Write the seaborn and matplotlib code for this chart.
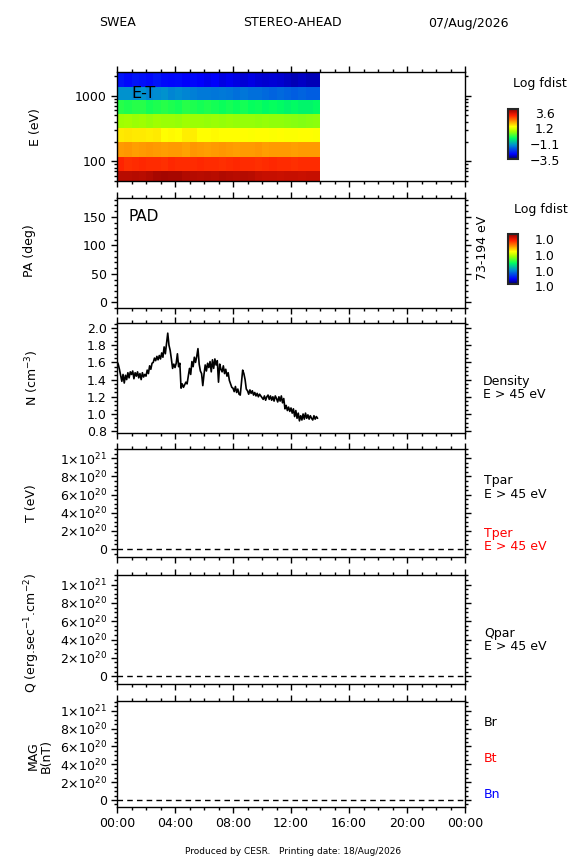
import numpy as np
import pandas as pd
import matplotlib
matplotlib.use("Agg")
import matplotlib.pyplot as plt
import seaborn as sns
from matplotlib.colors import LinearSegmentedColormap, Normalize
from matplotlib.ticker import FixedLocator, MultipleLocator, LogLocator, NullFormatter, FixedFormatter

W, H = 584, 864

header = ["SWEA", "STEREO-AHEAD", "07/Aug/2026"]
footer = "Produced by CESR.   Printing date: 18/Aug/2026"

hour_ticks = [0, 4, 8, 12, 16, 20, 24]
hour_labels = ["00:00", "04:00", "08:00", "12:00", "16:00", "20:00", "00:00"]

# E-T spectrogram: energy channel edges (eV) and log fdist per half-hour bin (bottom channel first)
energy_edges = [44, 72, 118, 194, 320, 527, 867, 1377, 2265]
et_bin_hours = 0.5
log_fdist = [
    [3.25, 3.25, 3.28, 3.25, 3.30, 3.40, 3.42, 3.40, 3.38, 3.30, 3.28, 3.25, 3.28, 3.25,
     3.30, 3.28, 3.25, 3.28, 3.25, 3.18, 3.15, 3.15, 3.12, 3.15, 3.15, 3.12, 3.15, 3.15],
    [2.65, 2.55, 2.60, 2.62, 2.58, 2.60, 2.55, 2.62, 2.60, 2.58, 2.60, 2.62, 2.58, 2.60,
     2.55, 2.60, 2.62, 2.58, 2.60, 2.55, 2.60, 2.62, 2.58, 2.60, 2.55, 2.60, 2.58, 2.60],
    [1.82, 1.85, 1.78, 1.80, 1.85, 1.80, 1.78, 1.82, 1.80, 1.76, 1.84, 1.80, 1.78, 1.82,
     1.85, 1.80, 1.78, 1.82, 1.80, 1.84, 1.78, 1.80, 1.82, 1.80, 1.78, 1.82, 1.80, 1.80],
    [1.26, 1.28, 1.25, 1.26, 1.24, 1.27, 1.12, 1.14, 1.12, 1.22, 1.24, 1.13, 1.12, 1.14,
     1.12, 1.11, 1.13, 1.12, 1.10, 1.12, 1.11, 1.10, 1.12, 1.10, 1.09, 1.11, 1.12, 1.10],
    [0.40, 0.42, 0.38, 0.40, 0.35, 0.40, 0.36, 0.38, 0.34, 0.40, 0.36, 0.38, 0.35, 0.37,
     0.34, 0.36, 0.35, 0.33, 0.34, 0.32, 0.33, 0.30, 0.32, 0.28, 0.25, 0.22, 0.25, 0.28],
    [-0.30, -0.35, -0.30, -0.30, -0.40, -0.35, -0.30, -0.35, -0.40, -0.30, -0.35, -0.40, -0.35, -0.40,
     -0.45, -0.40, -0.45, -0.40, -0.50, -0.45, -0.55, -0.50, -0.55, -0.60, -0.55, -0.60, -0.60, -0.55],
    [-1.50, -1.50, -1.55, -1.50, -1.60, -1.55, -1.50, -1.60, -1.55, -1.60, -1.65, -1.70, -1.70, -1.75,
     -1.70, -1.75, -1.80, -1.75, -1.80, -1.80, -1.85, -1.90, -1.85, -1.90, -1.95, -1.90, -1.95, -1.95],
    [-2.60, -2.70, -2.60, -2.65, -2.70, -2.60, -2.70, -2.75, -2.70, -2.80, -2.75, -2.80, -2.85, -2.80,
     -2.90, -2.85, -2.90, -2.95, -2.90, -2.95, -3.00, -2.95, -3.00, -3.05, -3.10, -3.05, -3.10, -3.10],
]
fdist_range = (-3.5, 3.6)
fdist_labels = ["3.6", "1.2", "\u22121.1", "\u22123.5"]
pad_labels = ["1.0", "1.0", "1.0", "1.0"]

# electron density (cm^-3), 5-minute samples from 00:00
density_step_min = 5
density = [
    1.61, 1.58, 1.52, 1.45, 1.38, 1.46, 1.36, 1.45, 1.40, 1.48, 1.42, 1.49,
    1.46, 1.50, 1.41, 1.48, 1.44, 1.49, 1.42, 1.47, 1.40, 1.48, 1.43, 1.46,
    1.44, 1.51, 1.47, 1.56, 1.52, 1.59, 1.60, 1.65, 1.62, 1.67, 1.63, 1.68,
    1.64, 1.71, 1.66, 1.78, 1.70, 1.82, 1.94, 1.80, 1.74, 1.64, 1.53, 1.58,
    1.54, 1.59, 1.70, 1.55, 1.59, 1.30, 1.35, 1.31, 1.34, 1.37, 1.35, 1.44,
    1.53, 1.46, 1.61, 1.55, 1.66, 1.60, 1.67, 1.76, 1.58, 1.50, 1.47, 1.33,
    1.46, 1.57, 1.50, 1.59, 1.54, 1.61, 1.49, 1.63, 1.53, 1.64, 1.57, 1.62,
    1.37, 1.58, 1.52, 1.49, 1.56, 1.47, 1.52, 1.44, 1.48, 1.39, 1.35, 1.31,
    1.30, 1.26, 1.32, 1.25, 1.29, 1.23, 1.22, 1.36, 1.51, 1.47, 1.40, 1.29,
    1.27, 1.23, 1.28, 1.24, 1.27, 1.22, 1.25, 1.21, 1.24, 1.20, 1.23, 1.21,
    1.19, 1.17, 1.21, 1.16, 1.20, 1.22, 1.17, 1.21, 1.16, 1.20, 1.15, 1.21,
    1.18, 1.14, 1.20, 1.15, 1.21, 1.13, 1.18, 1.06, 1.10, 1.04, 1.08, 1.03,
    1.07, 1.01, 1.06, 0.97, 1.04, 0.95, 1.01, 0.92, 0.98, 0.93, 1.00, 0.94,
    1.01, 0.95, 0.99, 0.94, 0.98, 0.95, 0.93, 0.98, 0.94, 0.97, 0.95,
]
density_ticks = [0.8, 1.0, 1.2, 1.4, 1.6, 1.8, 2.0]
density_labels = ["0.8", "1.0", "1.2", "1.4", "1.6", "1.8", "2.0"]

pa_ticks = [0, 50, 100, 150]
fill_ticks = [0, 2e20, 4e20, 6e20, 8e20, 1e21]
fill_labels = ["0", r"$2{\times}10^{20}$", r"$4{\times}10^{20}$", r"$6{\times}10^{20}$",
               r"$8{\times}10^{20}$", r"$1{\times}10^{21}$"]
fill_value = 0.0

sns.set_style("ticks")
plt.rcParams["font.family"] = ["DejaVu Sans"]
plt.rcParams["mathtext.default"] = "regular"
plt.rcParams["axes.linewidth"] = 1.0
plt.rcParams["text.color"] = "black"
plt.rcParams["axes.labelcolor"] = "black"
plt.rcParams["xtick.color"] = "black"
plt.rcParams["ytick.color"] = "black"

cmap = LinearSegmentedColormap.from_list("idl_rainbow", [
    (0.0, "#000060"), (0.1, "#0000ff"), (0.28, "#0090d0"), (0.42, "#00ff60"),
    (0.55, "#a0ff00"), (0.65, "#ffff00"), (0.75, "#ff9900"), (0.87, "#ff2000"), (1.0, "#900000")])


def px_axes(fig, left, top, right, bottom):
    return fig.add_axes([left / W, 1 - bottom / H, (right - left) / W, (bottom - top) / H])


def px_text(fig, x, y, s, **kw):
    kw.setdefault("fontsize", 9)
    kw.setdefault("va", "center")
    kw.setdefault("color", "black")
    return fig.text(x / W, 1 - y / H, s, **kw)


def style_axis(ax, last=False):
    ax.set_xlim(0, 24)
    ax.xaxis.set_major_locator(FixedLocator(hour_ticks))
    ax.xaxis.set_minor_locator(MultipleLocator(1))
    ax.tick_params(which="both", direction="out", top=True, right=True, width=1, color="black",
                   labelcolor="black", labelsize=9, pad=3)
    ax.tick_params(which="major", length=4.3)
    ax.tick_params(which="minor", length=2.5)
    if last:
        ax.xaxis.set_major_formatter(FixedFormatter(hour_labels))
    else:
        ax.tick_params(labelbottom=False)
    for s in ax.spines.values():
        s.set_visible(True)
        s.set_color("black")
        s.set_linewidth(1)
    ax.set(xlabel=None, ylabel=None)


fig = plt.figure(figsize=(W / 100, H / 100), dpi=100)
boxes = [(72, 181), (198, 308), (323, 433), (449, 557), (575, 684), (701, 807)]
axes = [px_axes(fig, 117, t, 465, b) for t, b in boxes]

# header
for x, s in zip([118, 292, 468], header):
    px_text(fig, x, 23, s, ha="center")

# E-T spectrogram
ax = axes[0]
fd = np.array(log_fdist)
t_edges = np.arange(fd.shape[1] + 1) * et_bin_hours
mesh = ax.pcolormesh(t_edges, energy_edges, fd, cmap=cmap, vmin=fdist_range[0], vmax=fdist_range[1],
                     shading="flat")
ax.set_yscale("log")
ax.set_ylim(50, 2300)
style_axis(ax)
ax.yaxis.set_major_locator(FixedLocator([100, 1000]))
ax.yaxis.set_major_formatter(FixedFormatter(["100", "1000"]))
ax.yaxis.set_minor_locator(LogLocator(base=10, subs=np.arange(2, 10)))
ax.yaxis.set_minor_formatter(NullFormatter())
ax.text(14 / 348, 0.8, "E-T", transform=ax.transAxes, fontsize=11.5, va="center", color="black")

# PAD (empty)
ax = axes[1]
ax.set_ylim(-10, 183)
style_axis(ax)
ax.yaxis.set_major_locator(FixedLocator(pa_ticks))
ax.yaxis.set_minor_locator(MultipleLocator(10))
ax.text(12 / 348, 0.83, "PAD", transform=ax.transAxes, fontsize=11, va="center", color="black")

# density
ax = axes[2]
dens_df = pd.DataFrame({"hour": np.arange(len(density)) * density_step_min / 60, "n": density})
sns.lineplot(data=dens_df, x="hour", y="n", ax=ax, color="black", lw=1.2)
ax.set_ylim(0.779, 2.058)
style_axis(ax)
ax.yaxis.set_major_locator(FixedLocator(density_ticks))
ax.yaxis.set_major_formatter(FixedFormatter(density_labels))
ax.yaxis.set_minor_locator(MultipleLocator(0.05))

# T, Q, MAG: only fill values
lims = [(-0.088e21, 1.103e21), (-0.085e21, 1.105e21), (-0.078e21, 1.109e21)]
for i, ax in enumerate(axes[3:]):
    ax.axhline(fill_value, color="black", lw=1, ls=(0, (4, 3)))
    ax.set_ylim(*lims[i])
    style_axis(ax, last=(i == 2))
    ax.yaxis.set_major_locator(FixedLocator(fill_ticks))
    ax.yaxis.set_major_formatter(FixedFormatter(fill_labels))
    ax.yaxis.set_minor_locator(MultipleLocator(0.5e20))

# colour bars
cax = px_axes(fig, 508, 109, 518, 159)
cb = fig.colorbar(mesh, cax=cax)
cb.set_ticks([])
cb.outline.set_linewidth(1.5)
for y, s in zip([114, 129.5, 145.5, 161.5], fdist_labels):
    px_text(fig, 545, y, s, ha="center")
px_text(fig, 540, 83, "Log fdist", ha="center")

cax2 = px_axes(fig, 508, 234, 518, 284)
cb2 = fig.colorbar(plt.cm.ScalarMappable(norm=Normalize(0, 1), cmap=cmap), cax=cax2)
cb2.set_ticks([])
cb2.outline.set_linewidth(1.5)
for y, s in zip([240, 256, 272, 288], pad_labels):
    px_text(fig, 545, y, s, ha="center")
px_text(fig, 541, 210, "Log fdist", ha="center")

# y labels
px_text(fig, 35, 127, "E (eV)", rotation=90, ha="center")
px_text(fig, 30, 251, "PA (deg)", rotation=90, ha="center")
px_text(fig, 32, 378, r"N (cm$^{-3}$)", rotation=90, ha="center")
px_text(fig, 31, 503, "T (eV)", rotation=90, ha="center")
px_text(fig, 32, 633, r"Q (erg.sec$^{-1}$.cm$^{-2}$)", rotation=90, ha="center")
px_text(fig, 40, 756, "MAG\nB(nT)", rotation=90, ha="center", linespacing=0.95)

# right-hand annotations
px_text(fig, 482, 248, "73-194 eV", rotation=90, ha="center")
px_text(fig, 483, 381, "Density")
px_text(fig, 483, 395, "E > 45 eV")
px_text(fig, 484, 481, "Tpar")
px_text(fig, 484, 494, "E > 45 eV")
px_text(fig, 484, 534, "Tper", color="red")
px_text(fig, 484, 547, "E > 45 eV", color="red")
px_text(fig, 484, 633, "Qpar")
px_text(fig, 484, 646, "E > 45 eV")
px_text(fig, 484, 722, "Br")
px_text(fig, 484, 758, "Bt", color="red")
px_text(fig, 484, 794, "Bn", color="blue")

px_text(fig, 293, 851, footer, ha="center", fontsize=6.5)

fig.savefig("out.png", dpi=100)
